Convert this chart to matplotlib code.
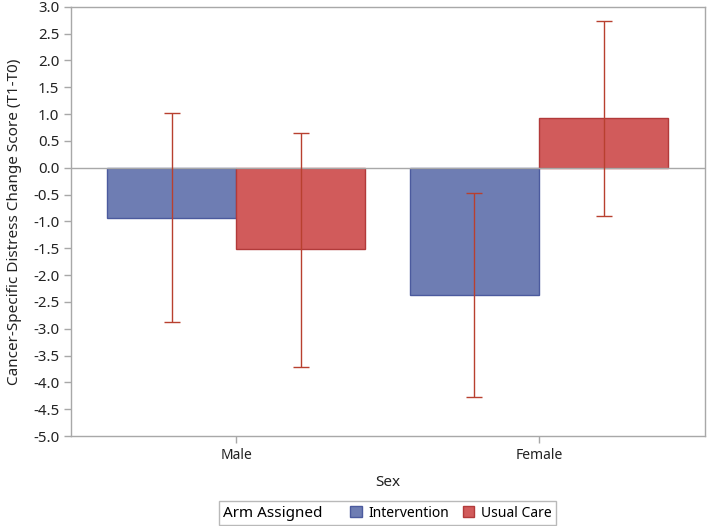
import numpy as np
import matplotlib
matplotlib.use("Agg")
import matplotlib.pyplot as plt
from matplotlib.patches import Patch
from matplotlib.offsetbox import HPacker

plt.rcParams['font.family'] = ['Noto Sans', 'DejaVu Sans']

sexes = ["Male", "Female"]
arms = ["Intervention", "Usual Care"]
means = {"Intervention": [-0.93, -2.38], "Usual Care": [-1.52, 0.93]}
lower = {"Intervention": [-2.87, -4.28], "Usual Care": [-3.71, -0.90]}
upper = {"Intervention": [1.02, -0.48], "Usual Care": [0.65, 2.74]}

fills = {"Intervention": "#6e7db3", "Usual Care": "#d15b5b"}
edges = {"Intervention": "#4b5a9e", "Usual Care": "#b23a3a"}
errcol = "#b8402f"
gray = "#a8a8a8"

fig = plt.figure(figsize=(7.09, 5.26), dpi=100)
ax = fig.add_axes([0.1001, 0.1711, 0.8943, 0.8162])

x = np.arange(len(sexes))
w = 0.426
for i, arm in enumerate(arms):
    xs = x + (i - 0.5) * w
    m = np.array(means[arm])
    ax.bar(xs, m, width=w, color=fills[arm], edgecolor=edges[arm], linewidth=1.0, zorder=2)
    yerr = [m - np.array(lower[arm]), np.array(upper[arm]) - m]
    ax.errorbar(xs, m, yerr=yerr, fmt="none", ecolor=errcol, elinewidth=1.0,
                capsize=5.5, capthick=1.0, zorder=3)

ax.axhline(0, color=gray, linewidth=1.0, zorder=2.5)

ax.set_xlim(-0.545, 1.548)
ax.set_ylim(-5.0, 3.0)
ticks = np.arange(-5.0, 3.01, 0.5)
ax.set_yticks(ticks)
ax.set_yticklabels(["%.1f" % v for v in ticks])
ax.set_xticks(x)
ax.set_xticklabels(sexes)
for s in ax.spines.values():
    s.set_color(gray)
    s.set_linewidth(1.0)
ax.tick_params(axis="both", colors=gray, labelcolor="#222222", labelsize=10, length=5, width=1)
ax.tick_params(axis="y", labelsize=10.8)
ax.set_xlabel("Sex", fontsize=11, color="#222222", labelpad=9)
ax.set_ylabel("Cancer-Specific Distress Change Score (T1-T0)", fontsize=11, color="#222222", labelpad=8)

handles = [Patch(facecolor=fills[a], edgecolor=edges[a]) for a in arms]
leg = fig.legend(handles, arms, title="Arm Assigned", ncol=2, loc="center",
                 bbox_to_anchor=(0.5466, 0.0247), fontsize=10, title_fontsize=11,
                 frameon=True, fancybox=False, edgecolor=gray, handlelength=0.8,
                 handleheight=0.8, handletextpad=0.5, columnspacing=1.0,
                 borderpad=0.3)
leg.get_frame().set_linewidth(1.0)
# put the title to the left of the entries
fs = leg._fontsize
leg._legend_box = HPacker(pad=leg.borderpad * fs, sep=2.0 * fs, align="center",
                          children=[leg._legend_title_box, leg._legend_handle_box])
leg._legend_box.set_figure(fig)
leg._set_loc(leg._loc)

fig.savefig("out.png", dpi=100)
